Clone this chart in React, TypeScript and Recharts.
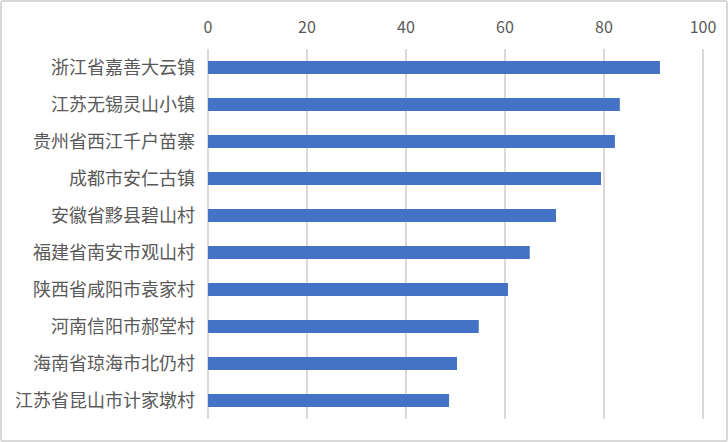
import React from 'react'
import { BarChart, Bar, XAxis, YAxis, CartesianGrid } from 'recharts'

document.body.style.margin = '0'

const places = [
  '浙江省嘉善大云镇',
  '江苏无锡灵山小镇',
  '贵州省西江千户苗寨',
  '成都市安仁古镇',
  '安徽省黟县碧山村',
  '福建省南安市观山村',
  '陕西省咸阳市袁家村',
  '河南信阳市郝堂村',
  '海南省琼海市北仍村',
  '江苏省昆山市计家墩村',
]
const scores = [91.3, 83.2, 82.2, 79.4, 70.3, 65.0, 60.6, 54.7, 50.3, 48.7]
const xTicks = [0, 20, 40, 60, 80, 100]

const data = places.map((name, i) => ({ name, value: scores[i] }))

const font = '"Noto Sans CJK SC", "Microsoft YaHei", sans-serif'

export default function App() {
  return (
    <div
      style={{
        width: 728,
        height: 442,
        boxSizing: 'border-box',
        border: '2px solid #d9d9d9',
        borderRadius: 3,
        background: '#fff',
        position: 'relative',
        overflow: 'hidden',
      }}
    >
      <div style={{ position: 'absolute', left: -2, top: -2 }}>
        <BarChart
          width={728}
          height={442}
          data={data}
          layout="vertical"
          margin={{ top: 19, right: 25, bottom: 23, left: 0 }}
        >
          <CartesianGrid horizontal={false} stroke="#d9d9d9" strokeWidth={2} />
          <XAxis
            type="number"
            orientation="top"
            domain={[0, 100]}
            ticks={xTicks}
            height={30}
            axisLine={false}
            tickLine={false}
            tickMargin={10}
            tick={{ fill: '#595959', fontSize: 16, fontFamily: font }}
            interval={0}
          />
          <YAxis
            type="category"
            dataKey="name"
            width={208}
            axisLine={false}
            tickLine={false}
            tickMargin={7}
            tick={{ fill: '#595959', fontSize: 18, fontFamily: font }}
            interval={0}
          />
          <Bar dataKey="value" fill="#4472C4" barSize={13} isAnimationActive={false} />
        </BarChart>
      </div>
    </div>
  )
}
